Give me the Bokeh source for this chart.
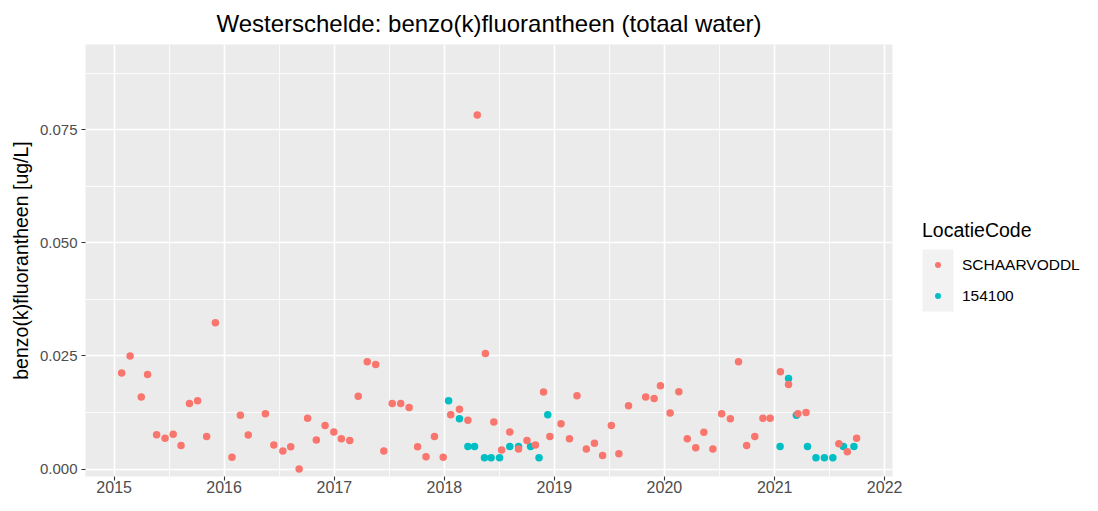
from datetime import datetime
import pandas as pd
from bokeh.plotting import figure
from bokeh.layouts import row
from bokeh.models import (ColumnDataSource, FixedTicker, PrintfTickFormatter,
                          DatetimeTickFormatter, Range1d, Legend, LegendItem, BoxAnnotation)
from bokeh.embed import file_html
from bokeh.resources import INLINE

# ---------------- data ----------------
chart_title = "Westerschelde: benzo(k)fluorantheen (totaal water)"
y_label = "benzo(k)fluorantheen [ug/L]"
legend_title = "LocatieCode"
series_names = ["SCHAARVODDL", "154100"]
series_colors = ["#F8766D", "#00BFC4"]

schaarvoddl_dates = [
    "2015-01-26", "2015-02-23", "2015-04-01", "2015-04-22", "2015-05-22", "2015-06-19",
    "2015-07-16", "2015-08-11", "2015-09-08", "2015-10-05", "2015-11-04", "2015-12-03",
    "2016-01-27", "2016-02-24", "2016-03-21", "2016-05-17", "2016-06-14", "2016-07-14",
    "2016-08-09", "2016-09-06", "2016-10-04", "2016-11-02", "2016-12-01", "2016-12-30",
    "2017-01-24", "2017-02-21", "2017-03-21", "2017-04-20", "2017-05-18", "2017-06-14",
    "2017-07-12", "2017-08-09", "2017-09-06", "2017-10-04", "2017-11-01", "2017-11-29",
    "2017-12-28", "2018-01-22", "2018-02-20", "2018-03-20", "2018-04-20", "2018-05-17",
    "2018-06-14", "2018-07-10", "2018-08-06", "2018-09-04", "2018-10-02", "2018-10-30",
    "2018-11-26", "2018-12-17", "2019-01-23", "2019-02-20", "2019-03-17", "2019-04-17",
    "2019-05-14", "2019-06-10", "2019-07-09", "2019-08-03", "2019-09-04", "2019-10-31",
    "2019-11-28", "2019-12-19", "2020-01-20", "2020-02-18", "2020-03-17", "2020-04-14",
    "2020-05-11", "2020-06-10", "2020-07-09", "2020-08-07", "2020-09-03", "2020-09-30",
    "2020-10-27", "2020-11-23", "2020-12-17", "2021-01-20", "2021-02-16", "2021-03-19",
    "2021-04-15", "2021-08-02", "2021-08-30", "2021-09-30",
]
schaarvoddl_values = [
    0.0212, 0.0250, 0.0159, 0.0209, 0.0076, 0.0068,
    0.0077, 0.0052, 0.0145, 0.0151, 0.0072, 0.0323,
    0.0026, 0.0119, 0.0075, 0.0122, 0.0053, 0.0040,
    0.0049, 0.0000, 0.0112, 0.0064, 0.0096, 0.0082,
    0.0067, 0.0063, 0.0161, 0.0237, 0.0231, 0.0040,
    0.0145, 0.0145, 0.0136, 0.0049, 0.0027, 0.0072,
    0.0026, 0.0120, 0.0132, 0.0108, 0.0782, 0.0255,
    0.0104, 0.0042, 0.0082, 0.0044, 0.0063, 0.0053,
    0.0170, 0.0072, 0.0100, 0.0067, 0.0162, 0.0044,
    0.0057, 0.0030, 0.0096, 0.0034, 0.0140, 0.0159,
    0.0156, 0.0184, 0.0124, 0.0171, 0.0067, 0.0047,
    0.0081, 0.0044, 0.0122, 0.0111, 0.0237, 0.0052,
    0.0072, 0.0112, 0.0112, 0.0215, 0.0187, 0.0122,
    0.0125, 0.0056, 0.0038, 0.0068,
]
loc154100_dates = [
    "2018-01-15", "2018-02-20", "2018-03-20", "2018-04-11", "2018-05-14", "2018-06-05",
    "2018-07-03", "2018-08-06", "2018-09-04", "2018-10-14", "2018-11-11", "2018-12-10",
    "2021-01-19", "2021-02-16", "2021-03-14", "2021-04-20", "2021-05-18", "2021-06-15",
    "2021-07-13", "2021-08-17", "2021-09-21",
]
loc154100_values = [
    0.0151, 0.0111, 0.0050, 0.0050, 0.0025, 0.0025,
    0.0025, 0.0050, 0.0050, 0.0050, 0.0025, 0.0120,
    0.0050, 0.0200, 0.0119, 0.0050, 0.0025, 0.0025,
    0.0025, 0.0050, 0.0050,
]
x_tick_years = [2015, 2016, 2017, 2018, 2019, 2020, 2021, 2022]
y_ticks = [0.0, 0.025, 0.05, 0.075]
y_minor_ticks = [-0.0125, 0.0125, 0.0375, 0.0625, 0.0875]

# ---------------- helpers ----------------
EPOCH = datetime(1970, 1, 1)


def ms(d):
    return (d - EPOCH).total_seconds() * 1000.0


x_major = [ms(datetime(y, 1, 1)) for y in x_tick_years]
x_minor = [(ms(datetime(x_tick_years[0] - 1, 1, 1)) + x_major[0]) / 2] + \
          [(a + b) / 2 for a, b in zip(x_major[:-1], x_major[1:])]

src_red = ColumnDataSource(dict(date=pd.to_datetime(schaarvoddl_dates), value=schaarvoddl_values))
src_blue = ColumnDataSource(dict(date=pd.to_datetime(loc154100_dates), value=loc154100_values))

FONT = "Liberation Sans"
H = 495

# ---------------- main plot ----------------
p = figure(width=904, height=H, x_axis_type="datetime",
           output_backend="svg", toolbar_location=None,
           x_range=Range1d(datetime(2014, 9, 28), datetime(2022, 1, 27)),
           y_range=Range1d(-0.00165, 0.0938),
           min_border_left=85, min_border_right=12, min_border_top=42, min_border_bottom=0)

p.background_fill_color = "#EBEBEB"
p.border_fill_color = "white"
p.outline_line_color = None

p.title.text = chart_title
p.title.align = "center"
p.title.text_font = FONT
p.title.text_font_size = "24px"
p.title.text_font_style = "normal"
p.title.text_color = "black"
p.title.standoff = 15

for g in (p.xgrid, p.ygrid):
    g.grid_line_color = "white"
    g.grid_line_width = 1.6
    g.minor_grid_line_color = "white"
    g.minor_grid_line_width = 0.8

p.xaxis.ticker = FixedTicker(ticks=x_major, minor_ticks=x_minor)
p.xaxis.formatter = DatetimeTickFormatter(years="%Y", months="%Y", days="%Y", hours="%Y",
                                          hourmin="%Y", minutes="%Y", minsec="%Y",
                                          seconds="%Y", milliseconds="%Y", microseconds="%Y")
p.yaxis.ticker = FixedTicker(ticks=y_ticks, minor_ticks=y_minor_ticks)
p.yaxis.formatter = PrintfTickFormatter(format="%.3f")
p.yaxis.axis_label = y_label

for ax in (p.xaxis, p.yaxis):
    ax.axis_line_color = None
    ax.major_tick_line_color = "#333333"
    ax.major_tick_line_width = 1.1
    ax.major_tick_in = 0
    ax.major_tick_out = 4
    ax.minor_tick_line_color = None
    ax.major_label_text_font = FONT
    ax.major_label_text_color = "#4D4D4D"
    ax.axis_label_text_font = FONT
    ax.axis_label_text_font_style = "normal"
    ax.axis_label_text_color = "black"
    ax.axis_label_text_font_size = "19.5px"

p.xaxis.major_label_text_font_size = "16px"
p.xaxis.major_label_standoff = 0
p.yaxis.major_label_text_font_size = "15px"
p.yaxis.major_label_standoff = 4
p.yaxis.axis_label_standoff = 5

# 154100 drawn first, SCHAARVODDL on top (as in the reference)
p.scatter(x="date", y="value", source=src_blue, size=7.5,
          fill_color=series_colors[1], line_color=None)
p.scatter(x="date", y="value", source=src_red, size=7.5,
          fill_color=series_colors[0], line_color=None)

# ---------------- legend panel ----------------
leg = figure(width=1082 - 904, height=H, output_backend="svg", toolbar_location=None,
             x_range=Range1d(0, 1), y_range=Range1d(0, 1),
             x_axis_location=None, y_axis_location=None, min_border=0)
leg.outline_line_color = None
leg.background_fill_color = "white"
leg.border_fill_color = "white"
for g in leg.grid:
    g.visible = False

LEG_X, LEG_Y, KEY_W, KEY_H = 18, 165, 31, 31

# grey background behind the legend keys (same frame reference as the legend)
leg.add_layout(BoxAnnotation(left=LEG_X, right=LEG_X + KEY_W,
                             bottom=LEG_Y, top=LEG_Y + 2 * KEY_H,
                             left_units="screen", right_units="screen",
                             bottom_units="screen", top_units="screen",
                             fill_color="#F2F2F2", fill_alpha=1.0, line_color=None,
                             level="underlay"))

# legend key renderers (their single point lies outside the visible range)
key_red = leg.scatter(x=[-5], y=[-5], size=7.5, fill_color=series_colors[0], line_color=None)
key_blue = leg.scatter(x=[-5], y=[-5], size=7.5, fill_color=series_colors[1], line_color=None)

legend = Legend(
    items=[LegendItem(label=series_names[0], renderers=[key_red]),
           LegendItem(label=series_names[1], renderers=[key_blue])],
    location=(LEG_X, LEG_Y),
    title=legend_title,
    title_text_font=FONT, title_text_font_size="19.5px", title_text_font_style="normal",
    title_text_color="black", title_standoff=7,
    label_text_font=FONT, label_text_font_size="15.5px", label_text_color="black",
    glyph_width=KEY_W, glyph_height=15, label_height=KEY_H, spacing=0, label_standoff=9,
    padding=0, margin=0, background_fill_alpha=0, border_line_color=None,
)
leg.add_layout(legend)

layout = row(p, leg)
open("out.html", "w").write(file_html(layout, INLINE))
